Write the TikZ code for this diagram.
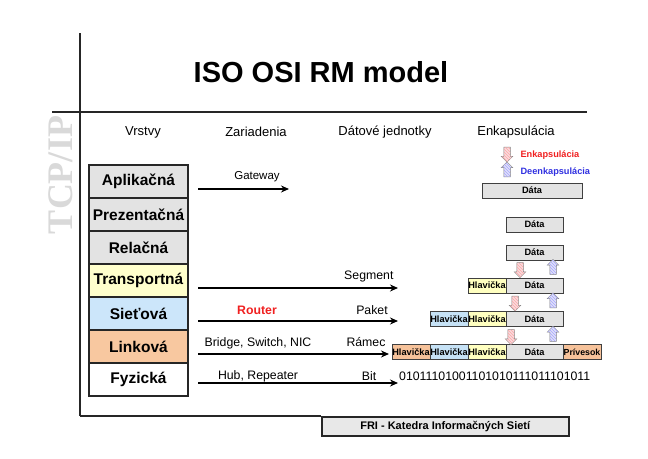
\documentclass[tikz,border=0pt]{standalone}
\usepackage{fontspec}
\setmainfont{Liberation Sans}
\newfontfamily\serifbold{Liberation Serif}
\usetikzlibrary{arrows.meta,shapes.arrows,patterns}
\definecolor{lgray}{HTML}{E3E3E3}
\definecolor{lyellow}{HTML}{FFFFCC}
\definecolor{lblue}{HTML}{CCE6FA}
\definecolor{lorange}{HTML}{F8C8A0}
\definecolor{hyellow}{HTML}{FFFFC0}
\definecolor{hblue}{HTML}{C6E2F6}
\definecolor{horange}{HTML}{F6C29A}
\definecolor{encred}{HTML}{F02020}
\definecolor{encblue}{HTML}{3030E0}
\definecolor{pinkfill}{HTML}{F8DCDE}
\definecolor{bluefill}{HTML}{E0E0F8}
\begin{document}
\begin{tikzpicture}[x=1pt,y=-1pt,
  layerbox/.style={draw=black!85, line width=1.5pt, minimum width=99pt, minimum height=33pt, inner sep=0pt, font=\fontsize{15.5}{16}\selectfont\bfseries},
  hdr/.style={font=\fontsize{13}{14}\selectfont},
  lbl/.style={font=\fontsize{12.3}{13}\selectfont},
  conn/.style={line width=1.4pt, -{Stealth[length=8pt,width=7pt]}},
  dbox/.style={draw=black!75, line width=1pt, minimum height=15pt, inner sep=0pt, font=\fontsize{9.2}{10}\selectfont\bfseries},
  downarr/.style={single arrow, shape border rotate=270, draw=black!50, line width=0.5pt, fill=pinkfill, postaction={pattern=north west lines, pattern color=red!35}, single arrow head extend=2.5pt, minimum height=15pt, inner sep=3pt},
  uparr/.style={single arrow, shape border rotate=90, draw=black!50, line width=0.5pt, fill=bluefill, postaction={pattern=north west lines, pattern color=blue!35}, single arrow head extend=2.5pt, minimum height=15pt, inner sep=3pt},
]
\useasboundingbox (0,0) rectangle (648,458);

% frame lines
\coordinate (vtop) at (80,33);
\coordinate (vbot) at (80,416);
\coordinate (hl) at (52,112);
\coordinate (hr) at (587,112);
\draw[line width=1.5pt, black!85] (vtop) -- (vbot);
\draw[line width=1.5pt, black!85] (hl) -- (hr);

% title
\node[font=\fontsize{29}{32}\selectfont\bfseries] (title) at (321,72) {ISO OSI RM model};

% TCP/IP
\node[rotate=90, text=black!15, font=\serifbold\fontsize{36}{38}\selectfont\bfseries] (tcpip) at (61,175) {TCP/IP};

% headers
\node[hdr] (h1) at (143,132) {Vrstvy};
\node[hdr] (h2) at (256,132) {Zariadenia};
\node[hdr] (h3) at (385,132) {Dátové jednotky};
\node[hdr] (h4) at (516,132) {Enkapsulácia};

% layers
\node[layerbox, fill=lgray] (l7) at (138.5,181.5) {Aplikačná};
\node[layerbox, fill=lgray] (l6) at (138.5,214.5) {Prezentačná};
\node[layerbox, fill=lgray] (l5) at (138.5,247.5) {Relačná};
\node[layerbox, fill=lyellow] (l4) at (138.5,280.5) {Transportná};
\node[layerbox, fill=lblue] (l3) at (138.5,313.5) {Sieťová};
\node[layerbox, fill=lorange] (l2) at (138.5,346.5) {Linková};
\node[layerbox, fill=white] (l1) at (138.5,379.5) {Fyzická};

% device arrows
\coordinate (a7s) at (198,189); \coordinate (a7e) at (289,189);
\coordinate (a4s) at (198,288); \coordinate (a4e) at (398,288);
\coordinate (a3s) at (198,321); \coordinate (a3e) at (398,321);
\coordinate (a2s) at (198,354); \coordinate (a2e) at (389,354);
\coordinate (a1s) at (198,383); \coordinate (a1e) at (398,383);
\draw[conn] (a7s) -- (a7e);
\draw[conn] (a4s) -- (a4e);
\draw[conn] (a3s) -- (a3e);
\draw[conn] (a2s) -- (a2e);
\draw[conn] (a1s) -- (a1e);

\node[font=\fontsize{11.5}{12}\selectfont] (gw) at (257,177) {Gateway};
\node[lbl, anchor=east] (seg) at (397,276) {Segment};
\node[lbl, text=encred, font=\fontsize{12.3}{13}\selectfont\bfseries] (rt) at (257,310) {Router};
\node[lbl] (pk) at (372,310) {Paket};
\node[lbl] (br) at (258,343) {Bridge, Switch, NIC};
\node[lbl] (ram) at (366,342) {Rámec};
\node[lbl] (hub) at (258,376) {Hub, Repeater};
\node[lbl] (bit) at (369,376) {Bit};
\node[lbl, anchor=west, inner sep=0pt] (bits) at (399,376) {01011101001101010111011101011};

% legend
\node[downarr] (ld) at (507,153) {};
\node[uparr] (lu) at (507,171) {};
\node[anchor=west, text=encred, font=\fontsize{9.2}{10}\selectfont\bfseries] (le) at (517,155) {Enkapsulácia};
\node[anchor=west, text=encblue, font=\fontsize{9.2}{10}\selectfont\bfseries] (ldn) at (517,172) {Deenkapsulácia};

% data units
\node[dbox, fill=lgray, minimum width=100pt] (d7) at (532,190.5) {Dáta};
\node[dbox, fill=lgray, minimum width=57pt] (d6) at (534.5,224.5) {Dáta};
\node[dbox, fill=lgray, minimum width=57pt] (d5) at (534.5,252.5) {Dáta};

\node[dbox, fill=lgray, minimum width=57pt] (d4) at (534.5,285.5) {Dáta};
\node[dbox, fill=hyellow, minimum width=38pt] (h4y) at (487,285.5) {Hlavička};

\node[dbox, fill=lgray, minimum width=57pt] (d3) at (534.5,319) {Dáta};
\node[dbox, fill=hyellow, minimum width=38pt] (h3y) at (487,319) {Hlavička};
\node[dbox, fill=hblue, minimum width=38pt] (h3b) at (449,319) {Hlavička};

\node[dbox, fill=lgray, minimum width=57pt] (d2) at (534.5,352) {Dáta};
\node[dbox, fill=hyellow, minimum width=38pt] (h2y) at (487,352) {Hlavička};
\node[dbox, fill=hblue, minimum width=38pt] (h2b) at (449,352) {Hlavička};
\node[dbox, fill=horange, minimum width=38pt] (h2o) at (411,352) {Hlavička};
\node[dbox, fill=horange, minimum width=38pt] (t2o) at (582,352) {\fontsize{8.8}{10}\selectfont Prívesok};

% encapsulation arrows
\node[downarr] (e54) at (520,268.5) {};
\node[uparr] (u54) at (553,268.5) {};
\node[downarr] (e43) at (515,302) {};
\node[uparr] (u43) at (553,302) {};
\node[downarr] (e32) at (511,335.5) {};
\node[uparr] (u32) at (553,335.5) {};

% footer
\node[draw=black!85, line width=1.5pt, fill=black!9, minimum width=247pt, minimum height=19pt, inner sep=0pt, anchor=north west, font=\fontsize{11}{12}\selectfont\bfseries] (fri) at (321,416) {FRI - Katedra Informačných Sietí};
\draw[line width=1.5pt, black!85] (vbot) -- (fri.north west);
\end{tikzpicture}
\end{document}
